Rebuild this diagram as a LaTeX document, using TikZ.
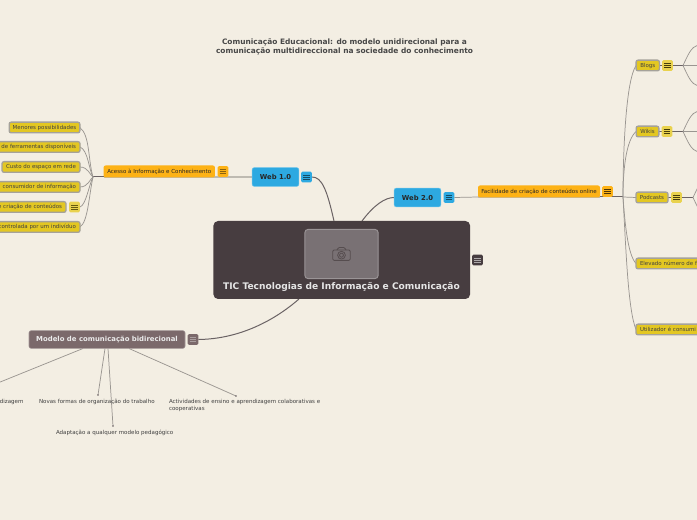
\documentclass[tikz,border=0pt]{standalone}
\usepackage{fontspec}
\setmainfont{DejaVu Sans}
\usetikzlibrary{backgrounds,calc}
\definecolor{bgc}{HTML}{F3EEE3}
\definecolor{cen}{HTML}{473D40}
\definecolor{blu}{HTML}{2DA9E1}
\definecolor{ora}{HTML}{FDB216}
\definecolor{yel}{HTML}{E3C722}
\definecolor{mod}{HTML}{7B696B}
\definecolor{lin}{HTML}{9A9691}
\definecolor{dkl}{HTML}{6A6264}
\newcommand{\fs}[1]{\fontsize{#1}{#1}\selectfont}
\tikzset{
 x=0.75pt,y=-0.75pt,
 box/.style={rounded corners=1.5pt,inner sep=0,outer sep=0,anchor=center},
 central/.style={box,fill=cen,rounded corners=3.5pt,minimum width=192.5pt,minimum height=58.5pt},
 web/.style={box,fill=blu,draw=blu!70!white,line width=.4pt,minimum width=35pt,minimum height=14pt,font=\fs{5.1}\bfseries,text=black!85},
 branch/.style={box,fill=ora,minimum height=9pt,font=\fs{4.13},text=black!85},
 leaf/.style={box,fill=yel,draw=black!32!bgc,line width=1pt,minimum height=8pt,font=\fs{4.1},text=black!75},
 cutleft/.style={leaf,anchor=east,inner xsep=3pt,text width=62pt,align=right},
 cutright/.style={leaf,anchor=west,inner xsep=3pt,text width=62pt,align=left},
 model/.style={box,fill=mod,draw=mod!70!white,line width=.4pt,minimum width=117pt,minimum height=13.2pt,font=\fs{5.18}\bfseries,text=white!92!black},
 menu/.style 2 args={rounded corners=1.2pt,inner sep=0,outer sep=0,minimum size=8.2pt,fill=#1,
   path picture={\foreach \d in {-1.5,0,1.5}{\draw[#2,line width=.5pt]
     ($(path picture bounding box.center)+(-2.6pt,\d pt)$)--($(path picture bounding box.center)+(2.6pt,\d pt)$);}}},
 plain/.style={inner sep=0,outer sep=0,font=\fs{4.15},text=black!75,align=left},
 thin line/.style={draw=lin,line width=.55pt},
 gray bar/.style={draw=black!22!bgc,line width=1pt},
 dark line/.style={draw=dkl,line width=.75pt},
}
\begin{document}
\begin{tikzpicture}
\useasboundingbox (0,0) rectangle (697,520);
% title
\node[font=\fs{5.58}\bfseries,text=black!72,align=center,inner sep=0] (title) at (344.5,47) {Comunicação Educacional: do modelo unidirecional para a\\[1.1pt]comunicação multidireccional na sociedade do conhecimento};
% central
\node[central] (c) at (341.75,260) {};
\node[box,fill=white!27!cen,draw=white!45!cen,line width=.7pt,minimum width=55pt,minimum height=37pt,rounded corners=2.5pt] (img) at (341.5,254) {};
\node[inner sep=0,font=\fs{6.83}\bfseries,text=white!90!black] (ctext) at (341.5,286.5) {TIC Tecnologias de Informação e Comunicação};
\node[inner sep=0] (cam) at (341.5,254) {\tikz[x=1pt,y=1pt,draw=cen!92!white,line width=.6pt]{\draw[rounded corners=1pt] (-6.6,-4.6) rectangle (6.6,3.2); \draw[rounded corners=.6pt] (-3.4,3.2)--(-2.2,5)--(2.2,5)--(3.4,3.2); \draw (0,-.7) circle (2.9); \draw (0,-.7) circle (1.5);}};
\node[menu={cen}{white!55!cen}] (cm) at (477.5,260) {};
% web
\node[web] (w1) at (275.5,177) {Web 1.0};
\node[menu={blu}{black!55!blu}] (w1m) at (306.5,177) {};
\node[web] (w2) at (417.5,197.5) {Web 2.0};
\node[menu={blu}{black!55!blu}] (w2m) at (449,197.5) {};
% branches
\node[branch,minimum width=83.5pt] (ac) at (159.25,171.5) {Acesso à Informação e Conhecimento};
\node[menu={ora}{black!45!ora}] (acm) at (223,171.5) {};
\node[branch,minimum width=91.5pt] (fa) at (539,191.5) {Facilidade de criação de conteúdos online};
\node[menu={ora}{black!70!ora}] (fam) at (607.5,191.5) {};
\coordinate (lj) at (93,177);
\coordinate (rj) at (623,197);
% left leaves
\node[leaf,minimum width=53pt] (l1) at (44.5,127.5) {Menores possibilidades};
\node[cutleft] (l2) at (80,147) {de ferramentas disponíveis};
\node[leaf,minimum width=58.5pt] (l3) at (41,167) {Custo do espaço em rede};
\node[cutleft] (l4) at (80,187) {consumidor de informação};
\node[cutleft] (l5) at (66,207) {e criação de conteúdos};
\node[menu={yel!80!white}{black!55!yel}] (l5m) at (74.5,207) {};
\node[cutleft] (l6) at (80,227) {controlada por um indivíduo};
% right leaves
\node[leaf,minimum width=17.5pt] (r1) at (647.75,65.5) {Blogs};
\node[menu={yel!80!white}{black!70!yel}] (r1m) at (667.5,65.5) {};
\node[leaf,minimum width=17pt] (r2) at (647.5,131.5) {Wikis};
\node[menu={yel!80!white}{black!70!yel}] (r2m) at (667,131.5) {};
\node[leaf,minimum width=24pt] (r3) at (652,197.5) {Podcasts};
\node[menu={yel!80!white}{black!70!yel}] (r3m) at (676.5,197.5) {};
\node[cutright] (r4) at (636,263.5) {Elevado número de f};
\node[cutright] (r5) at (636,329.5) {Utilizador é consumi};
\coordinate (j1) at (683,65.5);
\coordinate (j2) at (683,131.5);
\coordinate (j3) at (693,197.5);
\coordinate (e1a) at (698,45); \coordinate (e1b) at (698,65.5); \coordinate (e1c) at (698,86);
\coordinate (e2a) at (698,111); \coordinate (e2b) at (698,131.5); \coordinate (e2c) at (698,152);
\coordinate (e3a) at (698,187); \coordinate (e3b) at (698,208);
% model
\node[model] (m) at (107,339.5) {Modelo de comunicação bidirecional};
\node[menu={mod}{white!35!mod}] (mm) at (193,339.5) {};
\coordinate (s0) at (83,348.5);
\coordinate (s1) at (105,348.5);
\coordinate (s2) at (108,348.5);
\coordinate (s3) at (129,348.5);
\coordinate (t0) at (-1,382.5);
\coordinate (t1) at (98,395);
\coordinate (t2) at (113,426);
\coordinate (t3) at (236,396);
\node[plain,anchor=west] (n1) at (39,402) {Novas formas de organização do trabalho};
\node[plain,anchor=east] (n0) at (23.5,402) {dizagem};
\node[plain,anchor=west] (n2) at (56,432.5) {Adaptação a qualquer modelo pedagógico};
\node[plain,anchor=north west,align=left] (n3) at (169,399) {Actividades de ensino e aprendizagem colaborativas e\\[1.1pt]cooperativas};
\begin{scope}[on background layer]
\fill[bgc] (0,0) rectangle (697,520);
\draw[dark line] (w1m.east) .. controls (322,177) and (327,190) .. (c.north-|334,0);
\draw[dark line] (w2.west) .. controls (385,197.5) and (374,205) .. (c.north-|362,0);
\draw[dark line] (mm.east) .. controls (240,339) and (275,320) .. (c.south-|299,0);
\draw[gray bar] (lj-|ac.east) -- (w1.west);
\draw[gray bar] (ac.west|-lj) -- (lj-|ac.east);
\draw[dark line] (lj) -- (ac.west|-lj);
\draw[thin line] (lj) .. controls (88,160) and (90,135) .. (l1.east);
\draw[thin line] (lj) .. controls (89,170) and (88,150) .. (l2.east);
\draw[thin line] (lj) .. controls (90,175) and (88,167) .. (l3.east);
\draw[thin line] (lj) .. controls (90,179) and (88,187) .. (l4.east);
\draw[thin line] (lj) .. controls (89,185) and (86,205) .. (l5m.east);
\draw[thin line] (lj) .. controls (89,195) and (88,222) .. (l6.east);
\draw[thin line] (w2m.east) -- (fa.west|-rj);
\draw[gray bar] (fa.west|-rj) -- (fa.east|-rj);
\draw[dark line] (fa.east|-rj) -- (rj);
\draw[thin line] (rj) .. controls (623,150) and (626,80) .. (r1.west);
\draw[thin line] (rj) .. controls (623,170) and (626,140) .. (r2.west);
\draw[thin line] (rj) -- (r3.west);
\draw[thin line] (rj) .. controls (625,225) and (628,255) .. (r4.west);
\draw[thin line] (rj) .. controls (626,250) and (628,310) .. (r5.west);
\draw[dark line] (r1.east) -- (j1);
\draw[dark line] (r2.east) -- (j2);
\draw[dark line] (r3.east) -- (j3);
\draw[thin line] (j1) .. controls (688,55) and (691,47) .. (e1a);
\draw[thin line] (j1) -- (e1b);
\draw[thin line] (j1) .. controls (688,76) and (691,84) .. (e1c);
\draw[thin line] (j2) .. controls (688,121) and (691,113) .. (e2a);
\draw[thin line] (j2) -- (e2b);
\draw[thin line] (j2) .. controls (688,142) and (691,150) .. (e2c);
\draw[thin line] (j3) -- (e3a);
\draw[thin line] (j3) -- (e3b);
\draw[thin line] (s0) -- (t0);
\draw[thin line] (s1) -- (t1);
\draw[thin line] (s2) -- (t2);
\draw[thin line] (s3) -- (t3);
\fill[dkl] (t1) circle (.7pt) (t2) circle (.7pt) (t3) circle (.7pt);
\end{scope}
\end{tikzpicture}
\end{document}
